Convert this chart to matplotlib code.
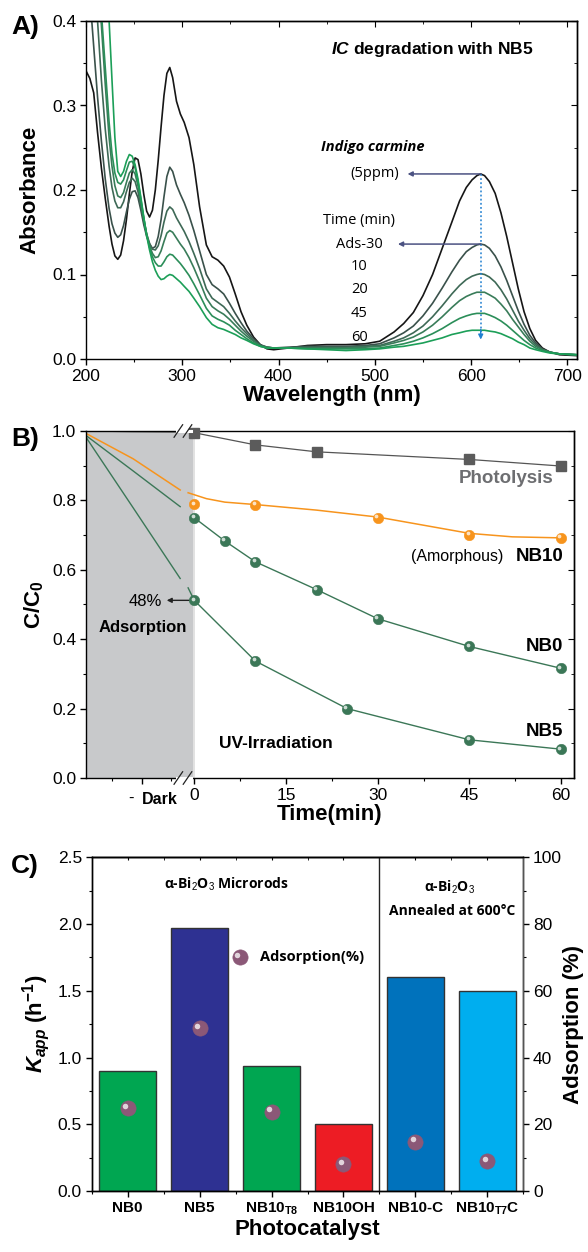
"""
Three-panel figure: UV-vis spectra of IC degradation (A), C/C0 kinetics (B),
rate constants and adsorption per photocatalyst (C).
"""

import matplotlib
matplotlib.use("Agg")
import matplotlib.pyplot as plt
import matplotlib.transforms as mtransforms
from matplotlib.ticker import MultipleLocator, FixedLocator, FormatStrFormatter
import numpy as np

plt.rcParams["font.family"] = ["Liberation Sans", "DejaVu Sans"]
plt.rcParams["mathtext.fontset"] = "custom"
plt.rcParams["mathtext.rm"] = "Liberation Sans"
plt.rcParams["mathtext.it"] = "Liberation Sans:italic:bold"
plt.rcParams["mathtext.bf"] = "Liberation Sans:bold"
plt.rcParams["axes.linewidth"] = 1.0

# -----------------------------------------------------------------------
# Data
# -----------------------------------------------------------------------

# (A) absorbance spectra, NB5
WAVELENGTH = [200, 204, 208, 212, 216, 220, 224, 227, 230, 233,
              236, 239, 242, 245, 248, 251, 254, 257, 260, 263,
              266, 269, 272, 275, 278, 281, 284, 287, 290, 294,
              298, 302, 307, 312, 318, 325, 331, 337, 343, 349,
              355, 361, 367, 374, 381, 388, 395,
              410, 430, 450, 470, 490,
              505, 520, 530, 540, 550, 560, 570, 580, 588, 595,
              601, 606, 610, 614, 619, 625, 631, 637, 643, 649,
              655, 661, 667, 674, 682, 692, 710]

ABS_5PPM = [0.341, 0.332, 0.315, 0.268, 0.226, 0.190, 0.157, 0.136, 0.122, 0.118,
            0.123, 0.140, 0.165, 0.195, 0.222, 0.238, 0.236, 0.219, 0.195, 0.175,
            0.168, 0.176, 0.200, 0.235, 0.275, 0.312, 0.338, 0.345, 0.333, 0.305,
            0.290, 0.280, 0.262, 0.230, 0.180, 0.135, 0.121, 0.117, 0.110, 0.097,
            0.077, 0.056, 0.040, 0.026, 0.017, 0.012, 0.011,
            0.013, 0.016, 0.017, 0.017, 0.018,
            0.021, 0.032, 0.042, 0.055, 0.075, 0.100, 0.131, 0.162, 0.187, 0.203,
            0.212, 0.217, 0.219, 0.217, 0.210, 0.196, 0.173, 0.145, 0.114, 0.083,
            0.056, 0.036, 0.022, 0.013, 0.008, 0.005, 0.004]
ABS_ADS30 = [0.520, 0.430, 0.370, 0.310, 0.258, 0.213, 0.178, 0.160, 0.149, 0.144,
             0.147, 0.158, 0.174, 0.189, 0.198, 0.199, 0.191, 0.176, 0.159, 0.145,
             0.136, 0.131, 0.133, 0.145, 0.165, 0.192, 0.216, 0.227, 0.222, 0.206,
             0.195, 0.185, 0.170, 0.152, 0.128, 0.100, 0.088, 0.083, 0.077, 0.066,
             0.054, 0.043, 0.033, 0.024, 0.017, 0.014, 0.013,
             0.014, 0.015, 0.015, 0.015, 0.016,
             0.018, 0.025, 0.031, 0.039, 0.051, 0.066, 0.084, 0.103, 0.117, 0.127,
             0.132, 0.135, 0.136, 0.135, 0.131, 0.122, 0.109, 0.093, 0.075, 0.057,
             0.041, 0.028, 0.019, 0.012, 0.008, 0.006, 0.005]
ABS_10 = [0.620, 0.540, 0.460, 0.400, 0.330, 0.272, 0.228, 0.203, 0.187, 0.179,
          0.179, 0.186, 0.198, 0.209, 0.214, 0.210, 0.198, 0.181, 0.163, 0.148,
          0.137, 0.130, 0.129, 0.134, 0.146, 0.162, 0.175, 0.180, 0.177, 0.167,
          0.159, 0.151, 0.139, 0.125, 0.107, 0.083, 0.072, 0.067, 0.062, 0.054,
          0.045, 0.037, 0.030, 0.022, 0.016, 0.014, 0.013,
          0.013, 0.014, 0.014, 0.014, 0.015,
          0.016, 0.021, 0.025, 0.031, 0.039, 0.050, 0.063, 0.077, 0.087, 0.094,
          0.098, 0.100, 0.101, 0.100, 0.097, 0.091, 0.082, 0.071, 0.058, 0.045,
          0.034, 0.024, 0.017, 0.011, 0.008, 0.006, 0.005]
ABS_20 = [0.680, 0.600, 0.520, 0.450, 0.395, 0.325, 0.262, 0.228, 0.205, 0.193,
          0.191, 0.197, 0.209, 0.220, 0.224, 0.219, 0.205, 0.186, 0.166, 0.148,
          0.134, 0.125, 0.120, 0.121, 0.128, 0.139, 0.149, 0.152, 0.150, 0.143,
          0.136, 0.130, 0.120, 0.108, 0.092, 0.072, 0.062, 0.057, 0.053, 0.047,
          0.040, 0.033, 0.027, 0.021, 0.016, 0.014, 0.013,
          0.013, 0.013, 0.013, 0.013, 0.014,
          0.015, 0.019, 0.022, 0.026, 0.032, 0.040, 0.050, 0.061, 0.069, 0.074,
          0.077, 0.079, 0.079, 0.079, 0.076, 0.072, 0.065, 0.057, 0.047, 0.038,
          0.029, 0.021, 0.015, 0.011, 0.008, 0.006, 0.005]
ABS_45 = [0.700, 0.620, 0.540, 0.470, 0.410, 0.345, 0.280, 0.243, 0.220, 0.209,
          0.207, 0.212, 0.223, 0.233, 0.234, 0.226, 0.210, 0.189, 0.167, 0.147,
          0.132, 0.121, 0.114, 0.110, 0.110, 0.115, 0.121, 0.124, 0.123, 0.118,
          0.113, 0.107, 0.099, 0.089, 0.076, 0.060, 0.051, 0.047, 0.044, 0.040,
          0.034, 0.029, 0.024, 0.019, 0.015, 0.013, 0.013,
          0.013, 0.012, 0.012, 0.012, 0.012,
          0.013, 0.016, 0.018, 0.021, 0.025, 0.030, 0.036, 0.043, 0.048, 0.051,
          0.053, 0.054, 0.054, 0.054, 0.052, 0.049, 0.045, 0.040, 0.034, 0.028,
          0.022, 0.017, 0.013, 0.010, 0.008, 0.006, 0.005]
ABS_60 = [0.800, 0.740, 0.670, 0.600, 0.530, 0.460, 0.400, 0.330, 0.262, 0.222,
          0.216, 0.222, 0.234, 0.242, 0.240, 0.230, 0.213, 0.191, 0.168, 0.146,
          0.129, 0.115, 0.105, 0.098, 0.094, 0.095, 0.098, 0.100, 0.099, 0.095,
          0.091, 0.086, 0.080, 0.072, 0.062, 0.049, 0.041, 0.037, 0.035, 0.032,
          0.029, 0.025, 0.022, 0.018, 0.015, 0.013, 0.013,
          0.013, 0.012, 0.011, 0.010, 0.011,
          0.012, 0.014, 0.015, 0.017, 0.019, 0.022, 0.025, 0.029, 0.031, 0.033,
          0.034, 0.034, 0.034, 0.034, 0.033, 0.032, 0.030, 0.027, 0.024, 0.020,
          0.017, 0.013, 0.011, 0.009, 0.007, 0.006, 0.005]

SPECTRA = [ABS_5PPM, ABS_ADS30, ABS_10, ABS_20, ABS_45, ABS_60]
SPECTRA_COLOURS = ["#161616", "#3a514b", "#3e6956", "#397c59", "#2b8e59", "#1c9f58"]

# (B) kinetics, time in min; dark phase drawn left of 0
DARK_T = [-17.7, -10.0, -2.3]
PHOTO_DARK = [1.0, 0.998, 0.997]
NB10_DARK = [0.993, 0.92, 0.83]
NB0_DARK = [0.987, 0.885, 0.782]
NB5_DARK = [0.982, 0.779, 0.575]

PHOTO_T = [0, 10, 20, 45, 60]
PHOTO_C = [0.995, 0.96, 0.94, 0.918, 0.899]
NB10_T = [0, 10, 30, 45, 60]
NB10_C = [0.789, 0.787, 0.75, 0.70, 0.692]
NB10_FIT_T = [-1, 2, 5, 10, 20, 30, 45, 52, 60]
NB10_FIT_C = [0.822, 0.805, 0.795, 0.788, 0.772, 0.752, 0.705, 0.695, 0.692]
NB0_T = [0, 5, 10, 20, 30, 45, 60]
NB0_C = [0.75, 0.683, 0.623, 0.543, 0.459, 0.379, 0.316]
NB5_T = [0, 10, 25, 45, 60]
NB5_C = [0.512, 0.337, 0.20, 0.11, 0.083]
NB5_FIT_T = [-1, 0, 10, 25, 45, 60]
NB5_FIT_C = [0.548, 0.512, 0.337, 0.20, 0.11, 0.083]

# (C) rate constants and adsorption
CATALYSTS = ["NB0", "NB5", r"NB10$_\mathbf{T8}$", "NB10OH", "NB10-C", r"NB10$_\mathbf{T7}$C"]
K_APP = [0.90, 1.97, 0.94, 0.50, 1.60, 1.50]
ADSORPTION = [24.8, 48.7, 23.8, 8.0, 14.8, 9.0]
BAR_COLOURS = ["#00a651", "#2e3192", "#00a651", "#ed1c24", "#0072bc", "#00aeef"]

ORANGE = "#f7941d"
GREEN = "#3b7757"
MAUVE = "#8b5877"


# -----------------------------------------------------------------------
# Helpers
# -----------------------------------------------------------------------

def spheres(ax, x, y, colour, size, transform=None, zorder=5):
    base = transform if transform is not None else ax.transData
    ax.plot(x, y, "o", ms=size, color=colour, mec=colour, mew=0.4, ls="none",
            transform=base, zorder=zorder, clip_on=False)
    shine = mtransforms.offset_copy(base, fig=ax.figure, x=-size * 0.16,
                                    y=size * 0.16, units="points")
    ax.plot(x, y, "o", ms=size * 0.36, color="white", alpha=0.75, mew=0, ls="none",
            transform=shine, zorder=zorder + 0.1, clip_on=False)


def style_ticks(ax):
    ax.tick_params(which="both", direction="out", labelsize=12.5, pad=3)
    ax.tick_params(which="major", length=4, width=1)
    ax.tick_params(which="minor", length=2.5, width=0.8)


def inner_ticks(sec, axis, major, minor):
    axis.set_major_locator(MultipleLocator(major))
    axis.set_minor_locator(MultipleLocator(minor))
    sec.tick_params(which="both", direction="in", labeltop=False, labelright=False)
    sec.tick_params(which="major", length=4)
    sec.tick_params(which="minor", length=2.5)


# -----------------------------------------------------------------------
# Panels
# -----------------------------------------------------------------------

def draw_spectra(ax):
    for spec, col in zip(SPECTRA, SPECTRA_COLOURS):
        ax.plot(WAVELENGTH, spec, color=col, lw=1.2, solid_joinstyle="round")

    ax.set_xlim(200, 710)
    ax.set_ylim(0, 0.4)
    ax.xaxis.set_major_locator(MultipleLocator(100))
    ax.xaxis.set_minor_locator(MultipleLocator(50))
    ax.yaxis.set_major_locator(MultipleLocator(0.1))
    ax.yaxis.set_minor_locator(MultipleLocator(0.05))
    ax.yaxis.set_major_formatter(FormatStrFormatter("%.1f"))
    style_ticks(ax)
    top = ax.secondary_xaxis("top")
    inner_ticks(top, top.xaxis, 100, 50)
    right = ax.secondary_yaxis("right")
    inner_ticks(right, right.yaxis, 0.1, 0.05)
    ax.set_xlabel("Wavelength (nm)", fontsize=16, fontweight="bold", labelpad=1)
    ax.set_ylabel("Absorbance", fontsize=16, fontweight="bold", labelpad=8)

    ax.text(560, 0.366, r"$IC$ degradation with NB5", fontsize=12.5,
            fontweight="bold", ha="center", va="center")

    wl = np.array(WAVELENGTH)
    visible = np.where(wl > 450)[0]
    peak_i = int(visible[np.argmax(np.array(ABS_5PPM)[visible])])
    peak_wl = WAVELENGTH[peak_i]
    arrow_kw = dict(arrowstyle="-|>", color="#4b5282", lw=1.1, mutation_scale=7,
                    shrinkA=0, shrinkB=0)
    ax.annotate("", xy=(534, ABS_5PPM[peak_i]), xytext=(peak_wl, ABS_5PPM[peak_i]),
                arrowprops=arrow_kw)
    ax.annotate("", xy=(524, ABS_ADS30[peak_i]), xytext=(peak_wl, ABS_ADS30[peak_i]),
                arrowprops=arrow_kw)
    ax.plot([peak_wl, peak_wl], [ABS_5PPM[peak_i], 0.032], ls=(0, (1.2, 1.5)),
            color="#1f7fd0", lw=1.1)
    ax.annotate("", xy=(peak_wl, 0.023), xytext=(peak_wl, 0.035),
                arrowprops=dict(arrowstyle="-|>", color="#1f7fd0", lw=1,
                                mutation_scale=7, shrinkA=0, shrinkB=0))

    lab = dict(fontsize=10.5, family="Open Sans", ha="center", va="center")
    ax.text(498, 0.251, "Indigo carmine", fontweight="bold", style="italic", **lab)
    ax.text(500, 0.219, "(5ppm)", **lab)
    ax.text(484, 0.164, "Time (min)", **lab)
    ax.text(484, 0.136, "Ads-30", **lab)
    for txt, yy in zip(["10", "20", "45", "60"], [0.109, 0.082, 0.054, 0.026]):
        ax.text(484, yy, txt, **lab)


def draw_kinetics(ax):
    ax.axvspan(-17.7, 0, color="#c8c9cb", zorder=0, lw=0)
    ax.axvline(0, color="#e2e2e2", lw=1.4, zorder=0.5)

    ax.plot(DARK_T, PHOTO_DARK, color="#555555", lw=0.9, zorder=2)
    ax.plot(DARK_T, NB10_DARK, color=ORANGE, lw=1.1, zorder=2)
    ax.plot(DARK_T, NB0_DARK, color=GREEN, lw=1.0, zorder=2)
    ax.plot(DARK_T, NB5_DARK, color=GREEN, lw=1.0, zorder=2)

    ax.plot(PHOTO_T, PHOTO_C, color="#555555", lw=0.9, zorder=2)
    ax.plot(PHOTO_T, PHOTO_C, "s", color="#5b5b5b", ms=6.5, zorder=4, clip_on=False)
    ax.plot(NB10_FIT_T, NB10_FIT_C, color=ORANGE, lw=1.1, zorder=2)
    spheres(ax, NB10_T, NB10_C, ORANGE, 7.5)
    ax.plot(NB0_T, NB0_C, color=GREEN, lw=1.0, zorder=2)
    spheres(ax, NB0_T, NB0_C, GREEN, 7.5)
    ax.plot(NB5_FIT_T, NB5_FIT_C, color=GREEN, lw=1.0, zorder=2)
    spheres(ax, NB5_T, NB5_C, GREEN, 7.5)

    ax.set_xlim(-17.7, 62.1)
    ax.set_ylim(0, 1.0)
    ax.xaxis.set_major_locator(FixedLocator([-8.5, 0, 15, 30, 45, 60]))
    ax.set_xticklabels(["", "0", "15", "30", "45", "60"])
    ax.xaxis.set_minor_locator(FixedLocator([-13.4, -3.8, 7.5, 22.5, 37.5, 52.5]))
    ax.yaxis.set_major_locator(MultipleLocator(0.2))
    ax.yaxis.set_minor_locator(MultipleLocator(0.1))
    ax.yaxis.set_major_formatter(FormatStrFormatter("%.1f"))
    style_ticks(ax)
    right = ax.secondary_yaxis("right")
    inner_ticks(right, right.yaxis, 0.2, 0.1)

    # axis break marks
    tr = ax.get_xaxis_transform()
    for yy in (0.0, 1.0):
        ax.plot([-2.8, -0.6], [yy, yy], color="white", lw=2.2, transform=tr,
                clip_on=False, zorder=6)
        for xx in (-2.6, -1.1):
            ax.plot([xx - 0.7, xx + 0.7], [yy - 0.018, yy + 0.018], color="#222222",
                    lw=0.9, transform=tr, clip_on=False, zorder=7)

    ax.set_xlabel("Time(min)", fontsize=16, fontweight="bold", labelpad=1)
    ax.set_ylabel(r"C/C$_\mathbf{0}$", fontsize=16, fontweight="bold", labelpad=4)
    ax.text(-10.3, -0.058, "-", fontsize=12, ha="center", va="center", transform=tr)
    ax.text(-5.6, -0.062, "Dark", fontsize=11.5, fontweight="bold", ha="center",
            va="center", transform=tr)

    ax.annotate("", xy=(-4.5, NB5_C[0]), xytext=(-0.7, NB5_C[0]),
                arrowprops=dict(arrowstyle="-|>", color="#222222", lw=1,
                                mutation_scale=7, shrinkA=0, shrinkB=0))
    ax.text(-5.3, 0.508, "48%", fontsize=12, ha="right", va="center")
    ax.text(-8.4, 0.435, "Adsorption", fontsize=12, fontweight="bold",
            ha="center", va="center")
    ax.text(13.4, 0.10, "UV-Irradiation", fontsize=12.5, fontweight="bold",
            ha="center", va="center")
    ax.text(51, 0.862, "Photolysis", fontsize=13.5, fontweight="bold",
            color="#6d6e71", ha="center", va="center")
    ax.text(60.4, 0.638, "NB10", fontsize=13.5, fontweight="bold", ha="right",
            va="center")
    ax.text(50.6, 0.638, "(Amorphous)", fontsize=11.5, ha="right", va="center")
    ax.text(60.3, 0.38, "NB0", fontsize=13.5, fontweight="bold", ha="right",
            va="center")
    ax.text(60.3, 0.133, "NB5", fontsize=13.5, fontweight="bold", ha="right",
            va="center")


def draw_bars(ax):
    x = np.arange(len(CATALYSTS))
    ax.bar(x, K_APP, width=0.8, color=BAR_COLOURS, edgecolor="#333333", lw=1.0,
           zorder=2)
    ax.axvline(3.5, color="#222222", lw=1.0, zorder=3)

    ax.set_xlim(-0.5, 5.5)
    ax.set_ylim(0, 2.5)
    ax.set_xticks(x)
    ax.set_xticklabels(CATALYSTS, fontsize=11, fontweight="bold")
    ax.set_xticks(np.arange(-0.5, 6, 1.0), minor=True)
    ax.yaxis.set_major_locator(MultipleLocator(0.5))
    ax.yaxis.set_minor_locator(MultipleLocator(0.25))
    ax.yaxis.set_major_formatter(FormatStrFormatter("%.1f"))
    style_ticks(ax)
    ax.tick_params(axis="x", labelsize=11)
    top = ax.secondary_xaxis("top")
    top.set_xticks(x)
    top.set_xticks(np.arange(-0.5, 6, 1.0), minor=True)
    top.tick_params(which="both", direction="in", labeltop=False, length=2.5)
    ax.set_xlabel("Photocatalyst", fontsize=16, fontweight="bold", labelpad=1)
    ax.set_ylabel(r"$K_{app}$ (h$^\mathbf{-1}$)", fontsize=16, fontweight="bold",
                  labelpad=4)

    ax2 = ax.twinx()
    ax2.set_ylim(0, 100)
    ax2.yaxis.set_major_locator(MultipleLocator(20))
    ax2.yaxis.set_minor_locator(MultipleLocator(10))
    style_ticks(ax2)
    ax2.spines["right"].set_color("#555555")
    ax2.set_ylabel("Adsorption (%)", fontsize=16, fontweight="bold", labelpad=1)
    spheres(ax2, x, ADSORPTION, MAUVE, 11)

    spheres(ax2, [0.343], [0.70], MAUVE, 11, transform=ax2.transAxes)
    ax2.text(0.39, 0.70, "Adsorption(%)", transform=ax2.transAxes, fontsize=10.5,
             fontweight="bold", family="Open Sans", va="center", ha="left")

    note = dict(fontsize=10, fontweight="bold", family="Open Sans", ha="center",
                va="center", transform=ax2.transAxes)
    ax2.text(0.313, 0.92, r"α-Bi$_2$O$_3$ Microrods", **note)
    ax2.text(0.828, 0.91, r"α-Bi$_2$O$_3$", **note)
    ax2.text(0.835, 0.84, "Annealed at 600°C", **note)


# -----------------------------------------------------------------------
# Main
# -----------------------------------------------------------------------

fig = plt.figure(figsize=(5.88, 12.52), dpi=100)
ax_a = fig.add_axes([86 / 588, 1 - 359 / 1252, 491 / 588, 338 / 1252])
ax_b = fig.add_axes([86 / 588, 1 - 778 / 1252, 488 / 588, 347 / 1252])
ax_c = fig.add_axes([91.7 / 588, 1 - 1191 / 1252, 431.6 / 588, 333.7 / 1252])

draw_spectra(ax_a)
draw_kinetics(ax_b)
draw_bars(ax_c)

for label, ypx in (("A)", 27), ("B)", 439), ("C)", 866)):
    fig.text(11 / 588, 1 - ypx / 1252, label, fontsize=19, fontweight="bold",
             ha="left", va="center")

fig.savefig("out.png", dpi=100)
